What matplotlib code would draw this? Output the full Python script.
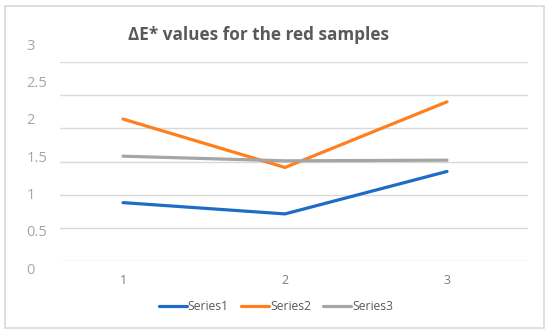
import matplotlib
matplotlib.use("Agg")
import matplotlib.pyplot as plt
from matplotlib.patches import Rectangle

plt.rcParams['font.family'] = ['Open Sans', 'DejaVu Sans']

# data
samples = [1, 2, 3]
series1 = [0.88, 0.71, 1.35]
series2 = [2.14, 1.41, 2.40]
series3 = [1.58, 1.51, 1.52]
y_ticks = [0, 0.5, 1, 1.5, 2, 2.5, 3]
y_tick_labels = ["0", "0.5", "1", "1.5", "2", "2.5", "3"]

fig = plt.figure(figsize=(5.5, 3.36), dpi=100)

# light chart border
fig.patches.append(Rectangle((5 / 550, 1 - 328 / 336), 539 / 550, 322 / 336,
                             transform=fig.transFigure, fill=False,
                             edgecolor="#d9d9d9", linewidth=1.2))

ax = fig.add_axes([60 / 550, 1 - 261 / 336, 468 / 550, 199 / 336])
ax.plot(samples, series1, color="#1f6cc7", lw=2.3, label="Series1", solid_capstyle="round")
ax.plot(samples, series2, color="#ff7f1e", lw=2.3, label="Series2", solid_capstyle="round")
ax.plot(samples, series3, color="#a5a5a5", lw=2.3, label="Series3", solid_capstyle="round")

ax.set_xlim(0.611, 3.5)
ax.set_ylim(0, 3)
ax.set_yticks(y_ticks)
ax.set_yticklabels([])
ax.set_xticks(samples)
ax.set_xticklabels([str(s) for s in samples])
ax.grid(axis="y", color="#d9d9d9", lw=1)
ax.set_axisbelow(True)
for sp in ax.spines.values():
    sp.set_visible(False)
ax.tick_params(axis="both", length=0)
ax.tick_params(axis="x", pad=9, labelsize=9, labelcolor="#7f7f7f")

# y labels sit on their own slightly taller scale, like the picture
ax2 = fig.add_axes([60 / 550, 1 - 268 / 336, 468 / 550, 224 / 336])
ax2.set_ylim(0, 3)
ax2.set_yticks(y_ticks)
ax2.set_yticklabels(y_tick_labels)
ax2.set_xticks([])
ax2.patch.set_visible(False)
for sp in ax2.spines.values():
    sp.set_visible(False)
ax2.tick_params(axis="y", length=0, pad=24, labelsize=10.5, labelcolor="#a6a6a6")
for lab in ax2.get_yticklabels():
    lab.set_horizontalalignment("left")

fig.text(258 / 550, 1 - 35 / 336, "ΔE* values for the red samples",
         ha="center", va="center", fontsize=12.3, fontweight="bold", color="#595959")

ax.legend(loc="center", bbox_to_anchor=(276 / 550, 1 - 307 / 336),
          bbox_transform=fig.transFigure, ncol=3, frameon=False,
          fontsize=8.7, labelcolor="#595959", handlelength=2.3,
          handletextpad=0.1, columnspacing=1.0)

fig.savefig("out.png", dpi=100)
